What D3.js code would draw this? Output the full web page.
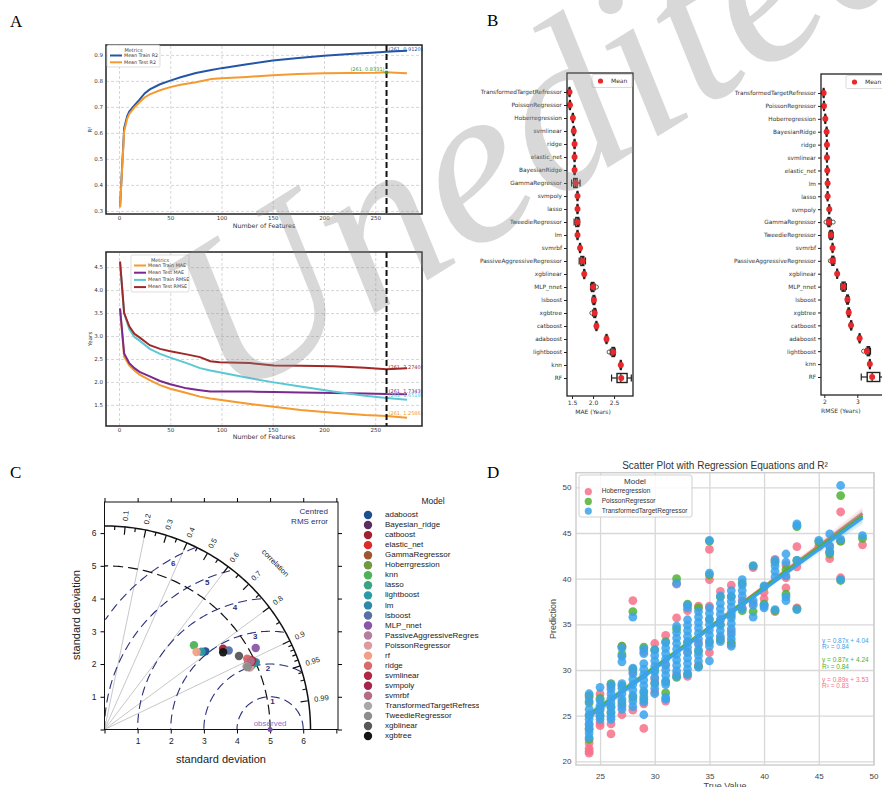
<!DOCTYPE html>
<html><head><meta charset="utf-8">
<script src="https://cdn.jsdelivr.net/npm/d3@7"></script>
<style>body{margin:0;background:#fff}svg{display:block}</style>
</head><body>
<svg id="c" width="882" height="787"></svg>
<script>
// ===================== DATA =====================
// Panel A (top): R2 vs number of features
const r2Features  = [1,5,8,10,15,20,25,30,40,50,60,75,90,100,125,150,175,200,225,250,261,270,281];
const meanTrainR2 = [0.315,0.618,0.665,0.682,0.706,0.728,0.752,0.767,0.787,0.801,0.814,0.830,0.842,0.849,0.864,0.878,0.888,0.897,0.903,0.909,0.912,0.914,0.916];
const meanTestR2  = [0.313,0.605,0.655,0.673,0.698,0.718,0.736,0.748,0.764,0.776,0.785,0.795,0.807,0.810,0.815,0.822,0.826,0.829,0.830,0.831,0.8331,0.831,0.829];
// Panel A (bottom): errors vs number of features
const lossFeatures  = [1,5,10,15,20,30,40,50,66,79,89,98,128,151,177,209,240,261,281];
const meanTrainMAE  = [3.60,2.55,2.36,2.25,2.16,2.04,1.93,1.85,1.76,1.68,1.64,1.61,1.52,1.46,1.39,1.33,1.28,1.2586,1.22];
const meanTestMAE   = [3.60,2.62,2.41,2.30,2.22,2.12,2.02,1.95,1.86,1.82,1.79,1.79,1.79,1.78,1.77,1.76,1.75,1.7343,1.73];
const meanTrainRMSE = [4.62,3.50,3.15,2.98,2.90,2.72,2.61,2.53,2.41,2.30,2.25,2.21,2.08,1.99,1.90,1.79,1.70,1.6519,1.61];
const meanTestRMSE  = [4.62,3.50,3.21,3.05,2.97,2.80,2.72,2.67,2.60,2.54,2.45,2.43,2.41,2.36,2.35,2.34,2.31,2.2740,2.30];
const selectedFeatures = 261;
const featureTicks = [0,50,100,150,200,250];
const r2Ticks = [0.3,0.4,0.5,0.6,0.7,0.8,0.9];
const lossTicks = [1.5,2.0,2.5,3.0,3.5,4.0,4.5];

// Panel B: boxplots [min, q1, median, q3, max]
const maeModels = ["TransformedTargetRefressor","PoissonRegressor","Hoberregression","svmlinear","ridge","elastic_net","BayesianRidge","GammaRegressor","svmpoly","lasso","TweedieRegressor","lm","svmrbf","PassiveAggressiveRegressor","xgblinear","MLP_nnet","lsboost","xgbtree","catboost","adaboost","lightboost","knn","RF"];
const maeBox = [[1.42,1.43,1.44,1.45,1.46],[1.43,1.44,1.45,1.46,1.47],[1.50,1.51,1.52,1.53,1.54],[1.51,1.53,1.54,1.55,1.57],[1.54,1.55,1.56,1.57,1.58],[1.54,1.55,1.56,1.57,1.58],[1.54,1.55,1.56,1.57,1.58],[1.49,1.54,1.58,1.62,1.69],[1.61,1.62,1.63,1.64,1.65],[1.61,1.62,1.63,1.64,1.65],[1.55,1.59,1.63,1.66,1.68],[1.61,1.62,1.63,1.64,1.65],[1.67,1.68,1.69,1.70,1.71],[1.67,1.71,1.75,1.78,1.82],[1.77,1.78,1.79,1.80,1.81],[1.94,1.96,1.99,2.02,2.05],[1.98,2.00,2.02,2.04,2.06],[1.99,2.02,2.04,2.06,2.08],[2.05,2.07,2.08,2.09,2.11],[2.29,2.31,2.32,2.33,2.35],[2.41,2.45,2.48,2.51,2.53],[2.64,2.65,2.66,2.67,2.68],[2.44,2.57,2.66,2.81,2.91]];
const maeMean = [1.44,1.45,1.52,1.54,1.56,1.56,1.56,1.59,1.63,1.63,1.63,1.63,1.69,1.75,1.79,2.00,2.02,2.04,2.08,2.32,2.48,2.66,2.67];
const maeOutliers = [[15,2.08],[17,1.97],[20,2.38]];
const maeTicks = [1.5,2.0,2.5];
const rmseModels = ["TransformedTargetRefressor","PoissonRegressor","Hoberregression","BayesianRidge","ridge","svmlinear","elastic_net","lm","lasso","svmpoly","GammaRegressor","TweedieRegressor","svmrbf","PassiveAggressiveRegressor","xgblinear","MLP_nnet","lsboost","xgbtree","catboost","adaboost","lightboost","knn","RF"];
const rmseBox = [[1.96,1.97,1.98,1.99,2.00],[1.97,1.98,1.99,2.00,2.01],[2.01,2.02,2.03,2.04,2.05],[2.05,2.06,2.07,2.08,2.09],[2.06,2.07,2.08,2.09,2.10],[2.06,2.07,2.08,2.09,2.10],[2.07,2.08,2.09,2.10,2.11],[2.08,2.09,2.10,2.11,2.12],[2.08,2.09,2.10,2.11,2.12],[2.13,2.14,2.15,2.16,2.17],[2.08,2.11,2.14,2.17,2.21],[2.14,2.17,2.20,2.24,2.27],[2.23,2.24,2.25,2.26,2.27],[2.21,2.23,2.26,2.29,2.32],[2.37,2.38,2.39,2.40,2.41],[2.50,2.54,2.58,2.63,2.67],[2.66,2.68,2.70,2.73,2.75],[2.70,2.72,2.74,2.76,2.78],[2.78,2.80,2.81,2.83,2.84],[3.04,3.06,3.07,3.08,3.10],[3.26,3.30,3.33,3.37,3.40],[3.36,3.37,3.38,3.39,3.40],[3.12,3.30,3.45,3.68,3.90]];
const rmseMean = [1.98,1.99,2.03,2.07,2.08,2.08,2.09,2.10,2.10,2.15,2.14,2.20,2.25,2.25,2.39,2.58,2.70,2.74,2.81,3.07,3.29,3.38,3.45];
const rmseOutliers = [[10,2.05],[10,2.27],[13,2.18],[20,3.19]];
const rmseTicks = [2,3];

// Panel C: Taylor diagram
const taylorModels = ["adaboost","Bayesian_ridge","catboost","elastic_net","GammaRegressor","Hoberrgression","knn","lasso","lightboost","lm","lsboost","MLP_nnet","PassiveAggressiveRegressor","PoissonRegressor","rf","ridge","svmlinear","svmpoly","svmrbf","TransformedTargetRefressor","TweedieRegressor","xgblinear","xgbtree"];
const taylorColors = ["#1d4f8f","#5b2c5f","#a3212e","#dc2b2b","#9c5730","#6e9a40","#4db35a","#3aa37f","#2b9aa6","#2f88a5","#5670a6","#8c56a8","#b57ea0","#d99aa0","#f2a085","#d86a6a","#b02742","#a5254a","#b46b85","#a8a8a8","#8d8d8d","#575757","#141414"];
const taylorSD   = [3.87,4.86,4.35,4.86,4.79,4.85,3.73,4.97,3.77,5.01,4.46,5.20,4.83,4.78,3.65,4.82,4.94,4.89,4.88,4.70,4.72,4.64,4.29];
const taylorCorr = [0.787,0.903,0.823,0.899,0.906,0.915,0.724,0.913,0.777,0.912,0.841,0.878,0.898,0.918,0.761,0.894,0.904,0.907,0.904,0.912,0.915,0.875,0.835];
const observedSD = 5;
const maxSD = 6.22;
const rmsLevels = [1,2,3,4,5,6];
const corrMajor = [0.1,0.2,0.3,0.4,0.5,0.6,0.7,0.8,0.9,0.95,0.99];
const corrMinor = [0.05,0.15,0.25,0.35,0.45,0.55,0.65,0.75,0.85,0.91,0.92,0.93,0.94,0.96,0.97,0.98];
const corrLines = [0.2,0.4,0.6,0.8,0.9];
const sdTicks = [0,1,2,3,4,5,6,7];
const sdLabels = [1,2,3,4,5,6];

// Panel D: scatter (true value, predictions)
const dModels = ["Hoberregression","PoissonRegressor","TransformedTargetRegressor"];
const dColors = ["#f77189","#50b131","#3ba3ec"];
const regSlope = [0.89,0.87,0.87];
const regIntercept = [3.53,4.24,4.04];
const regR2 = [0.83,0.84,0.84];
const hoberPts = [[24,[27.0,24.0,22.0,21.4,21.1,20.9]],[25,[27.4,24.2,23.9]],[26,[28.2,24.1,23.0]],[27,[32.6,26.0,25.1]],[28,[37.6,29.8,25.6]],[29,[32.0,26.3,23.6]],[30,[32.9,29.0,27.6]],[31,[33.8,30.5,26.6]],[32,[39.4,35.7,29.5]],[33,[36.5,32.0,29.3]],[34,[37.0,33.0,30.5]],[35,[43.2,39.9,37.0,31.9]],[36,[38.6,35.5,33.5]],[37,[39.3,34.2,32.8]],[38,[37.6,36.8]],[39,[41.2,37.3]],[40,[38.5,37.8,37.0]],[41,[42.1,36.4]],[42,[41.5,40.1,39.0]],[43,[43.5,41.3,36.8]],[45,[43.5]],[46,[43.5,42.2]],[47,[47.3,44.1,40.1]],[49,[43.7]]];
const poissonPts = [[24,[27.2,26.4,25.0,23.5,22.4]],[25,[26.9,25.8,24.9]],[26,[28.5,26.0,25.3]],[27,[32.6,31.7,28.3,26.5]],[28,[36.4,30.1,27.0]],[29,[32.5,27.5,26.8]],[30,[32.2,30.0,28.5]],[31,[33.1,28.7,27.5]],[32,[40.0,34.5,29.2]],[33,[37.2,33.0,29.6]],[34,[36.8,32.0,30.4]],[35,[44.1,40.4,35.5,33.0]],[36,[38.0,35.0,33.3]],[37,[38.0,36.0,33.0]],[38,[39.5,36.5]],[39,[41.4,36.4]],[40,[39.1,37.2]],[41,[41.8,36.5]],[42,[41.0,38.3]],[43,[45.7,42.0,36.7]],[45,[44.0]],[46,[43.0,42.7]],[47,[49.1,44.1,39.8]],[49,[44.4]]];
const ttrPts = [[24,[27.4,26.6,25.7,25.1,24.6,24.1,23.6,23.1,22.6]],[25,[28.1,26.7,26.1,25.6,25.1,24.6]],[26,[28.4,27.9,27.4,26.9,26.4,25.9,25.4,24.9,24.6]],[27,[32.4,31.5,30.9,28.5,28.0,27.4,26.8,26.2,25.7]],[28,[35.8,30.2,29.6,29.0,28.4,27.8,27.2,26.6,26.0]],[29,[32.3,31.8,30.7,30.1,29.5,28.9,28.3,27.7,27.1,26.5,25.1]],[30,[32.2,31.6,31.0,30.4,29.8,29.2,28.6,28.0,27.4]],[31,[33.0,32.4,31.8,31.2,30.6,30.0,29.4,28.8,28.4,27.0,26.8]],[32,[39.5,34.8,34.1,33.5,32.9,32.3,31.7,31.1,30.5,29.9,29.3]],[33,[37.1,36.8,35.5,34.9,34.3,33.7,33.1,32.5,31.9,31.3,30.7,30.1,29.5]],[34,[36.4,35.8,35.2,34.6,34.0,33.4,32.8,32.2,31.6,31.0,30.3]],[35,[44.2,40.6,36.8,36.2,35.6,35.0,34.4,33.8,33.2,32.6,31.0]],[36,[38.1,37.3,36.7,36.1,35.5,34.9,34.3,33.7,33.1]],[37,[38.7,38.1,37.5,36.9,36.3,35.7,35.1,34.5,33.9,33.4,32.6]],[38,[39.9,39.3,38.7,38.1,37.4,36.7]],[39,[41.4,37.6,37.1,35.8]],[40,[39.2,37.1,36.8]],[41,[42.0,41.4,40.8,40.2,36.6]],[42,[42.7,41.8,40.3,38.0,37.6]],[43,[46.0,45.8,42.0,36.6]],[45,[44.2]],[46,[44.9,43.6,42.9]],[47,[50.2,44.3,39.9]],[49,[44.7]]];
const dXTicks = [25,30,35,40,45,50];
const dYTicks = [20,25,30,35,40,45,50];

// ===================== DRAWING =====================
const svg = d3.select("#c");
const djv = '"DejaVu Sans", sans-serif';
const sans = '"Liberation Sans", Arial, sans-serif';
const serif = '"Liberation Serif", "Times New Roman", serif';
function txt(g, x, y, s, o = {}) {
  const t = g.append("text").attr("x", x).attr("y", y).text(s)
    .attr("font-size", o.size || 8).attr("fill", o.fill || "#000")
    .attr("text-anchor", o.anchor || "start").attr("font-family", o.family || djv);
  if (o.baseline) t.attr("dominant-baseline", o.baseline);
  if (o.rotate != null) t.attr("transform", `rotate(${o.rotate},${x},${y})`);
  if (o.weight) t.attr("font-weight", o.weight);
  return t;
}
function styleAxis(g, size, color, family) {
  g.select(".domain").remove();
  g.selectAll("text").attr("font-size", size).attr("fill", color).attr("font-family", family);
}

// panel letters
[["A", 10, 27], ["B", 487, 26], ["C", 10, 478], ["D", 487, 478]].forEach(([l, x, y]) =>
  txt(svg, x, y, l, { size: 17, family: serif }));

// ---------- Panel A ----------
const aX = d3.scaleLinear().domain([-12.7, 295.6]).range([106, 422]);
function linePanel(y0, y1, yDomain, yTicks, fmt, series, legend, ylab, xlabY, ann) {
  const g = svg.append("g");
  const y = d3.scaleLinear().domain(yDomain).range([y1, y0]);
  const gx = g.append("g").attr("transform", `translate(0,${y1})`)
    .call(d3.axisBottom(aX).tickValues(featureTicks).tickSize(-(y1 - y0)).tickPadding(2));
  styleAxis(gx, 5.5, "#333", djv);
  gx.selectAll(".tick line").attr("stroke", "#c4c4c4").attr("stroke-dasharray", "3,2").attr("stroke-width", 0.7);
  const gy = g.append("g").attr("transform", `translate(106,0)`)
    .call(d3.axisLeft(y).tickValues(yTicks).tickFormat(fmt).tickSize(-316).tickPadding(3));
  styleAxis(gy, 5.5, "#333", djv);
  gy.selectAll(".tick line").attr("stroke", "#c4c4c4").attr("stroke-dasharray", "3,2").attr("stroke-width", 0.7);
  series.forEach(s => {
    g.append("path").datum(s.values).attr("fill", "none").attr("stroke", s.color).attr("stroke-width", 2)
      .attr("d", d3.line().x((d, i) => aX(s.xs[i])).y(d => y(d)));
  });
  g.append("line").attr("x1", aX(selectedFeatures)).attr("x2", aX(selectedFeatures)).attr("y1", y0).attr("y2", y1)
    .attr("stroke", "#111").attr("stroke-width", 2).attr("stroke-dasharray", "6,3");
  ann(g, y);
  g.append("rect").attr("x", 106).attr("y", y0).attr("width", 316).attr("height", y1 - y0)
    .attr("fill", "none").attr("stroke", "#222").attr("stroke-width", 1.5);
  const L = legend;
  g.append("rect").attr("x", L.x).attr("y", L.y).attr("width", L.w).attr("height", L.h).attr("rx", 1.5)
    .attr("fill", "#fff").attr("fill-opacity", 0.85).attr("stroke", "#d0d0d0").attr("stroke-width", 0.7);
  txt(g, L.x + L.w / 2, L.y + 6.5, "Metrics", { size: 5, anchor: "middle", fill: "#444" });
  series.forEach((s, i) => {
    const yy = L.y + 10.5 + i * L.step;
    g.append("line").attr("x1", L.x + 3).attr("x2", L.x + 15).attr("y1", yy).attr("y2", yy).attr("stroke", s.color).attr("stroke-width", 2);
    txt(g, L.x + 17, yy, s.name, { size: 4.8, fill: "#333", baseline: "middle" });
  });
  txt(g, 92, (y0 + y1) / 2, ylab, { size: 5.5, anchor: "middle", rotate: -90, fill: "#333" });
  txt(g, 264, xlabY, "Number of Features", { size: 6.3, anchor: "middle", fill: "#333" });
  return y;
}
linePanel(45, 214, [0.288, 0.938], r2Ticks, d3.format(".1f"),
  [{ name: "Mean Train R2", color: "#2456a8", xs: r2Features, values: meanTrainR2 },
   { name: "Mean Test R2", color: "#f59a30", xs: r2Features, values: meanTestR2 }],
  { x: 107, y: 45, w: 53, h: 22, step: 6.8 }, "R²", 228,
  (g, y) => {
    const i = r2Features.indexOf(selectedFeatures);
    txt(g, aX(selectedFeatures) + 2, y(meanTrainR2[i]) - 2, `(261, ${meanTrainR2[i].toFixed(4)})`, { size: 5, fill: "#2456a8", baseline: "middle" });
    txt(g, aX(selectedFeatures) - 2, y(meanTestR2[i]) - 3, `(261, ${meanTestR2[i].toFixed(4)})`, { size: 5, fill: "#3a9a3a", anchor: "end", baseline: "middle" });
    g.append("circle").attr("cx", aX(selectedFeatures)).attr("cy", y(meanTestR2[i])).attr("r", 1.8).attr("fill", "#3a9a3a");
  });
const lossSeries = [
  { name: "Mean Train MAE", color: "#f59a2c", xs: lossFeatures, values: meanTrainMAE },
  { name: "Mean Test MAE", color: "#7a2a8c", xs: lossFeatures, values: meanTestMAE },
  { name: "Mean Train RMSE", color: "#5ac8d4", xs: lossFeatures, values: meanTrainRMSE },
  { name: "Mean Test RMSE", color: "#a02828", xs: lossFeatures, values: meanTestRMSE }];
linePanel(252, 426, [1.04, 4.83], lossTicks, d3.format(".1f"), lossSeries,
  { x: 131, y: 255, w: 58, h: 37, step: 7.2 }, "Years", 439,
  (g, y) => {
    const i = lossFeatures.indexOf(selectedFeatures);
    lossSeries.slice().reverse().forEach(s => {
      txt(g, aX(selectedFeatures) + 2, y(s.values[i]) - 2, `(261, ${s.values[i].toFixed(4)})`, { size: 5, fill: s.color, baseline: "middle" });
    });
  });

// ---------- Panel B ----------
function boxPanel(models, stats, means, outliers, domain, range, top, bottom, ticks, tfmt, xlabel, legendX) {
  const g = svg.append("g");
  const x = d3.scaleLinear().domain(domain).range(range);
  const y = d3.scalePoint().domain(models).range([top + 19, bottom - 18]);
  const left = range[0];
  const gy = g.append("g").attr("transform", `translate(${left},0)`).call(d3.axisLeft(y).tickSize(3).tickPadding(2));
  styleAxis(gy, 5.8, "#333", djv);
  gy.selectAll(".tick line").attr("stroke", "#222");
  const gx = g.append("g").attr("transform", `translate(0,${bottom})`).call(d3.axisBottom(x).tickValues(ticks).tickFormat(tfmt).tickSize(3).tickPadding(2));
  styleAxis(gx, 6, "#333", djv);
  gx.selectAll(".tick line").attr("stroke", "#222");
  txt(g, (x(ticks[0]) + x(ticks[ticks.length - 1])) / 2, bottom + 18, xlabel, { size: 6, anchor: "middle", fill: "#333" });
  const bh = 9, ch = 7;
  models.forEach((m, i) => {
    const s = stats[i], cy = y(m);
    const b = g.append("g");
    b.append("line").attr("x1", x(s[0])).attr("x2", x(s[1])).attr("y1", cy).attr("y2", cy).attr("stroke", "#222").attr("stroke-width", 1.2);
    b.append("line").attr("x1", x(s[3])).attr("x2", x(s[4])).attr("y1", cy).attr("y2", cy).attr("stroke", "#222").attr("stroke-width", 1.2);
    [s[0], s[4]].forEach(v => b.append("line").attr("x1", x(v)).attr("x2", x(v)).attr("y1", cy - ch / 2).attr("y2", cy + ch / 2).attr("stroke", "#222").attr("stroke-width", 1.2));
    b.append("rect").attr("x", x(s[1])).attr("y", cy - bh / 2).attr("width", Math.max(0.5, x(s[3]) - x(s[1]))).attr("height", bh)
      .attr("fill", "none").attr("stroke", "#222").attr("stroke-width", 1.4);
    b.append("line").attr("x1", x(s[2])).attr("x2", x(s[2])).attr("y1", cy - bh / 2).attr("y2", cy + bh / 2).attr("stroke", "#222").attr("stroke-width", 1.2);
  });
  outliers.forEach(([i, v]) => g.append("circle").attr("cx", x(v)).attr("cy", y(models[i])).attr("r", 2).attr("fill", "none").attr("stroke", "#333").attr("stroke-width", 0.8));
  models.forEach((m, i) => g.append("circle").attr("cx", x(means[i])).attr("cy", y(m)).attr("r", 3).attr("fill", "#e8282a"));
  g.append("rect").attr("x", left).attr("y", top).attr("width", range[1] - left).attr("height", bottom - top)
    .attr("fill", "none").attr("stroke", "#222").attr("stroke-width", 1.3);
  g.append("rect").attr("x", legendX).attr("y", top + 1.5).attr("width", 40).attr("height", 13).attr("rx", 1.5)
    .attr("fill", "#fff").attr("stroke", "#ccc").attr("stroke-width", 0.7);
  g.append("circle").attr("cx", legendX + 8.5).attr("cy", top + 8).attr("r", 2.6).attr("fill", "#e8282a");
  txt(g, legendX + 19, top + 8, "Mean", { size: 6, fill: "#333", baseline: "middle" });
}
boxPanel(maeModels, maeBox, maeMean, maeOutliers, [1.38, 2.95], [567, 633], 73, 396, maeTicks, d3.format(".1f"), "MAE (Years)", 592);
boxPanel(rmseModels, rmseBox, rmseMean, rmseOutliers, [1.90, 4.0], [821, 890.3], 74, 395, rmseTicks, d3.format("d"), "RMSE (Years)", 846);

// ---------- Panel C (Taylor) ----------
svg.append("clipPath").attr("id", "clipC").append("rect").attr("x", 0).attr("y", 460).attr("width", 479).attr("height", 327);
const gC = svg.append("g").attr("clip-path", "url(#clipC)");
const tx = d3.scaleLinear().domain([0, 7.05]).range([104.5, 338]);
const ty = d3.scaleLinear().domain([0, 6.95]).range([729.5, 502]);
const navy = "#2a3178";
const polar = d3.line().x(d => tx(d[0])).y(d => ty(d[1]));
corrLines.forEach(c => {
  const a = Math.acos(c);
  gC.append("path").datum([[0, 0], [maxSD * Math.cos(a), maxSD * Math.sin(a)]]).attr("d", polar)
    .attr("stroke", "#c8c8c8").attr("stroke-width", 1);
});
rmsLevels.forEach(r => {
  const pts = d3.range(0, 181).map(k => {
    const a = k * Math.PI / 180; return [observedSD + r * Math.cos(a), r * Math.sin(a)];
  });
  const clipLine = d3.line().x(d => tx(d[0])).y(d => ty(d[1])).defined(d => d[0] >= 0 && Math.hypot(d[0], d[1]) <= maxSD);
  gC.append("path").datum(pts).attr("fill", "none").attr("stroke", navy).attr("stroke-width", 1.1).attr("stroke-dasharray", "9,5")
    .attr("d", clipLine);
  const la = (78 + 7 * r) * Math.PI / 180, lr = r - 0.15;
  txt(gC, tx(observedSD + lr * Math.cos(la)), ty(lr * Math.sin(la)), String(r), { size: 8, fill: navy, anchor: "middle", baseline: "middle", family: sans, weight: "bold" });
});
gC.append("path").datum(d3.range(0, 91).map(k => [observedSD * Math.cos(k * Math.PI / 180), observedSD * Math.sin(k * Math.PI / 180)]))
  .attr("d", polar).attr("fill", "none").attr("stroke", "#111").attr("stroke-width", 1.2).attr("stroke-dasharray", "10,5");
gC.append("path").datum(d3.range(0, 91).map(k => [maxSD * Math.cos(k * Math.PI / 180), maxSD * Math.sin(k * Math.PI / 180)]))
  .attr("d", polar).attr("fill", "none").attr("stroke", "#111").attr("stroke-width", 1.5);
corrMajor.concat(corrMinor).forEach(c => {
  const a = Math.acos(c), len = corrMajor.includes(c) ? 0.24 : 0.12;
  gC.append("path").datum([[maxSD * Math.cos(a), maxSD * Math.sin(a)], [(maxSD - len) * Math.cos(a), (maxSD - len) * Math.sin(a)]])
    .attr("d", polar).attr("stroke", "#111").attr("stroke-width", 1.2);
});
corrMajor.forEach(c => {
  const a = Math.acos(c), r = 6.4;
  const x = tx(r * Math.cos(a)), y = ty(r * Math.sin(a));
  txt(gC, x, y, String(c), { size: 7.5, family: sans, fill: "#222", baseline: "middle", rotate: -a * 180 / Math.PI });
});
{
  const a = 44.6 * Math.PI / 180, r = 7.23;
  const x = tx(r * Math.cos(a)), y = ty(r * Math.sin(a));
  txt(gC, x, y, "correlation", { size: 7.5, family: sans, fill: "#222", anchor: "middle", baseline: "middle", rotate: 90 - 44.6 });
}
gC.append("rect").attr("x", tx(0)).attr("y", ty(6.95)).attr("width", tx(7.05) - tx(0)).attr("height", ty(0) - ty(6.95))
  .attr("fill", "none").attr("stroke", "#111").attr("stroke-width", 1);
const cxb = gC.append("g").attr("transform", `translate(0,${ty(0)})`).call(d3.axisBottom(tx).tickValues(sdTicks).tickFormat(d => sdLabels.includes(d) ? d : "").tickSize(4).tickPadding(4));
styleAxis(cxb, 8.5, "#222", sans);
gC.append("g").attr("transform", `translate(0,${ty(6.95)})`).call(d3.axisTop(tx).tickValues(sdTicks).tickFormat("").tickSize(4)).select(".domain").remove();
const cyl = gC.append("g").attr("transform", `translate(${tx(0)},0)`).call(d3.axisLeft(ty).tickValues(sdTicks.slice(0, 7)).tickFormat(d => sdLabels.includes(d) ? d : "").tickSize(4).tickPadding(4));
styleAxis(cyl, 8.5, "#222", sans);
gC.append("g").attr("transform", `translate(${tx(7.05)},0)`).call(d3.axisRight(ty).tickValues(sdTicks.slice(0, 7)).tickFormat("").tickSize(4)).select(".domain").remove();
txt(gC, 221, 763, "standard deviation", { size: 11, family: sans, anchor: "middle", fill: "#222" });
txt(gC, 80, 615, "standard deviation", { size: 11, family: sans, anchor: "middle", fill: "#222", rotate: -90 });
txt(gC, 328, 514, "Centred", { size: 8, family: sans, anchor: "end", fill: navy });
txt(gC, 328, 524, "RMS error", { size: 8, family: sans, anchor: "end", fill: navy });
gC.append("circle").attr("cx", tx(observedSD)).attr("cy", ty(0)).attr("r", 2.5).attr("fill", "#7b52ab");
txt(gC, tx(observedSD), 726, "observed", { size: 8, family: sans, anchor: "middle", fill: "#9370c8" });
taylorModels.forEach((m, i) => {
  const a = Math.acos(taylorCorr[i]);
  gC.append("circle").attr("cx", tx(taylorSD[i] * Math.cos(a))).attr("cy", ty(taylorSD[i] * Math.sin(a))).attr("r", 4.2)
    .attr("fill", taylorColors[i]).attr("fill-opacity", 0.95);
});
txt(gC, 433, 504, "Model", { size: 8.5, family: sans, anchor: "middle", fill: "#222" });
const legY = d3.scalePoint().domain(taylorModels).range([515, 736]);
taylorModels.forEach((m, i) => {
  gC.append("circle").attr("cx", 368).attr("cy", legY(m)).attr("r", 4.2).attr("fill", taylorColors[i]);
  txt(gC, 385, legY(m), m, { size: 8, family: sans, fill: "#222", baseline: "middle" });
});

// ---------- Panel D ----------
const gD = svg.append("g");
const dx = d3.scaleLinear().domain([22.8, 50.05]).range([576, 874]);
const dy = d3.scaleLinear().domain([19.6, 51.6]).range([765, 472.7]);
svg.append("clipPath").attr("id", "clipD").append("rect").attr("x", 576).attr("y", 472.7).attr("width", 298).attr("height", 292.3);
const dgx = gD.append("g").attr("transform", "translate(0,765)").call(d3.axisBottom(dx).tickValues(dXTicks).tickSize(-292.3).tickPadding(8));
styleAxis(dgx, 8, "#444", sans);
dgx.selectAll(".tick line").attr("stroke", "#d8d8d8").attr("stroke-width", 1.3);
const dgy = gD.append("g").attr("transform", "translate(576,0)").call(d3.axisLeft(dy).tickValues(dYTicks).tickSize(-298).tickPadding(4.5));
styleAxis(dgy, 8, "#444", sans);
dgy.selectAll(".tick line").attr("stroke", "#d8d8d8").attr("stroke-width", 1.3);
const dPlot = gD.append("g").attr("clip-path", "url(#clipD)");
[hoberPts, poissonPts, ttrPts].forEach((cols, k) => {
  const pts = cols.flatMap(([t, ps]) => ps.map(p => [t, p]));
  dPlot.selectAll(null).data(pts).enter().append("circle").attr("cx", d => dx(d[0])).attr("cy", d => dy(d[1])).attr("r", 4.4)
    .attr("fill", dColors[k]).attr("fill-opacity", 0.85);
  const xs = [24, 30, 36, 42, 49];
  const ci = [0.5, 0.25, 0.15, 0.3, 0.7];
  const band = xs.map((x, j) => [x, regSlope[k] * x + regIntercept[k], ci[j]]);
  dPlot.append("path").datum(band).attr("fill", dColors[k]).attr("fill-opacity", 0.15)
    .attr("d", d3.area().curve(d3.curveMonotoneX).x(d => dx(d[0])).y0(d => dy(d[1] - d[2])).y1(d => dy(d[1] + d[2])));
  dPlot.append("path").datum(band).attr("fill", "none").attr("stroke", dColors[k]).attr("stroke-width", 3)
    .attr("d", d3.line().x(d => dx(d[0])).y(d => dy(d[1])));
});
gD.append("rect").attr("x", 576).attr("y", 472.7).attr("width", 298).attr("height", 292.3).attr("fill", "none").attr("stroke", "#cfcfcf").attr("stroke-width", 1.5);
txt(gD, 725, 468.5, "Scatter Plot with Regression Equations and R²", { size: 10, family: sans, anchor: "middle", fill: "#333" });
txt(gD, 725, 789, "True Value", { size: 9, family: sans, anchor: "middle", fill: "#444" });
txt(gD, 556, 619, "Prediction", { size: 9, family: sans, anchor: "middle", fill: "#444", rotate: -90 });
gD.append("rect").attr("x", 579).attr("y", 475).attr("width", 113).attr("height", 42).attr("rx", 2).attr("fill", "#fff").attr("fill-opacity", 0.85).attr("stroke", "#d0d0d0");
txt(gD, 635, 482, "Model", { size: 8, family: sans, anchor: "middle", fill: "#333", baseline: "middle" });
dModels.forEach((m, k) => {
  const yy = 491.7 + k * 9.7;
  gD.append("circle").attr("cx", 588.3).attr("cy", yy).attr("r", 3.6).attr("fill", dColors[k]).attr("fill-opacity", 0.85);
  txt(gD, 601.7, yy, m, { size: 6.6, family: sans, fill: "#333", baseline: "middle" });
});
[2, 1, 0].forEach((k, j) => {
  const y0 = 641 + j * 19.5;
  txt(gD, 822, y0, `y = ${regSlope[k].toFixed(2)}x + ${regIntercept[k].toFixed(2)}`, { size: 6.5, family: sans, fill: dColors[k], baseline: "middle" });
  txt(gD, 822, y0 + 6.5, `R² = ${regR2[k].toFixed(2)}`, { size: 6.5, family: sans, fill: dColors[k], baseline: "middle" });
});

// ---------- Watermark ----------
svg.append("text").text("Unedited").attr("font-family", serif).attr("font-style", "italic").attr("font-size", 228)
  .attr("fill", "#8a8a8a").attr("fill-opacity", 0.33).attr("transform", "translate(228,405) rotate(-32)");
</script>
</body></html>
